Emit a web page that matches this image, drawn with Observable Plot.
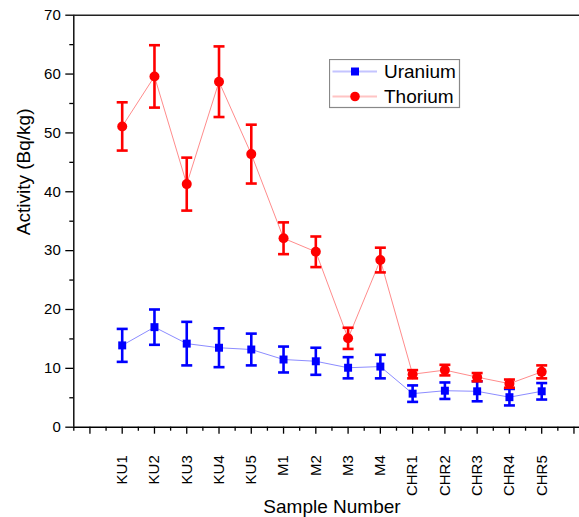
<!DOCTYPE html>
<html>
<head>
<meta charset="utf-8">
<script src="https://cdn.jsdelivr.net/npm/d3@7"></script>
<script src="https://cdn.jsdelivr.net/npm/@observablehq/plot@0.6"></script>
<style>
  html, body { margin: 0; padding: 0; background: #fff; }
  #chart { position: relative; width: 579px; height: 517px; overflow: hidden; font-family: "Liberation Sans", Arial, sans-serif; }
  #legend { position: absolute; left: 329px; top: 59px; }
</style>
</head>
<body>
<div id="chart"></div>
<script>
// Sample sites along the x axis
const samples = ["KU1", "KU2", "KU3", "KU4", "KU5", "M1", "M2", "M3", "M4", "CHR1", "CHR2", "CHR3", "CHR4", "CHR5"];

// Activity concentrations (Bq/kg) with their uncertainties
const uranium    = [13.9, 17.0, 14.2, 13.5, 13.2, 11.5, 11.2, 10.1, 10.3, 5.7, 6.2, 6.1, 5.1, 6.1];
const uraniumErr = [2.8, 3.0, 3.7, 3.3, 2.7, 2.2, 2.3, 1.8, 2.0, 1.4, 1.4, 1.7, 1.4, 1.4];
const thorium    = [51.1, 59.6, 41.3, 58.7, 46.4, 32.1, 29.8, 15.1, 28.4, 9.0, 9.7, 8.5, 7.4, 9.4];
const thoriumErr = [4.1, 5.3, 4.5, 6.0, 5.0, 2.7, 2.6, 1.8, 2.1, 0.7, 0.9, 0.7, 0.7, 1.1];

const seriesNames   = ["Uranium", "Thorium"];
const seriesColors  = ["#0000ff", "#ff0000"];
const lineColors    = ["#8c8cff", "#ff8c8c"];
const seriesSymbols = ["square", "circle"];

const yMajorTicks = [0, 10, 20, 30, 40, 50, 60, 70];
const yMinorTicks = [5, 15, 25, 35, 45, 55, 65];
const xMajorTicks = d3.range(-1, 15);
const xMinorTicks = d3.range(-1.5, 15, 1);

const toRows = (values, errors, name) =>
  samples.map((s, i) => ({ i, sample: s, value: values[i], err: errors[i], series: name }));

const uRows = toRows(uranium, uraniumErr, "Uranium");
const tRows = toRows(thorium, thoriumErr, "Thorium");

// Horizontal cap drawn at each error-bar end
const capSymbol = { draw(ctx) { ctx.moveTo(-5.5, 0); ctx.lineTo(5.5, 0); } };

function seriesMarks(rows, k) {
  const c = seriesColors[k];
  return [
    Plot.line(rows, { x: "i", y: "value", stroke: lineColors[k], strokeWidth: 1 }),
    Plot.ruleX(rows, { x: "i", y1: d => d.value - d.err, y2: d => d.value + d.err, stroke: c, strokeWidth: 2.6 }),
    Plot.dot(rows, { x: "i", y: d => d.value + d.err, symbol: capSymbol, stroke: c, strokeWidth: 2.6, fill: "none" }),
    Plot.dot(rows, { x: "i", y: d => d.value - d.err, symbol: capSymbol, stroke: c, strokeWidth: 2.6, fill: "none" }),
    Plot.dot(rows, { x: "i", y: "value", symbol: seriesSymbols[k], r: k === 0 ? 4.5 : 5, fill: c, stroke: "none" })
  ];
}

const chart = Plot.plot({
  width: 579,
  height: 517,
  marginLeft: 73.3,
  marginRight: -10.6,
  marginTop: 14.7,
  marginBottom: 90.3,
  style: { fontFamily: "Liberation Sans, Arial, sans-serif", color: "#000", background: "#fff", overflow: "hidden" },
  x: { type: "linear", domain: [-1.5, 14.5] },
  y: { domain: [0, 70] },
  marks: [
    // frame: left axis, bottom axis, top border
    Plot.ruleX([-1.5], { stroke: "#000", strokeWidth: 1.4 }),
    Plot.ruleY([0], { stroke: "#000", strokeWidth: 1.4 }),
    Plot.ruleY([70], { stroke: "#222", strokeWidth: 1.4 }),
    // y axis ticks and labels
    Plot.axisY({ ticks: yMajorTicks, tickSize: 8, tickPadding: 5, fontSize: 15, strokeWidth: 1.3, label: null }),
    Plot.axisY({ ticks: yMinorTicks, tickSize: 4, tickFormat: () => "", strokeWidth: 1.3, label: null }),
    // x axis ticks
    Plot.axisX({ ticks: xMajorTicks, tickSize: 7, tickFormat: () => "", strokeWidth: 1.3, label: null }),
    Plot.axisX({ ticks: xMinorTicks, tickSize: 4, tickFormat: () => "", strokeWidth: 1.3, label: null }),
    // rotated sample names
    Plot.axisX({
      ticks: d3.range(samples.length), tickSize: 0, tickPadding: 28, tickRotate: -90,
      tickFormat: i => samples[i], fontSize: 15,
      label: "Sample Number", labelAnchor: "center", labelOffset: 86, labelArrow: "none"
    }),
    Plot.text(["Activity (Bq/kg)"], { frameAnchor: "left", rotate: -90, dx: -50, dy: 14, fontSize: 19, fill: "#000" }),
    ...seriesMarks(uRows, 0),
    ...seriesMarks(tRows, 1)
  ]
});

// tick labels at 15px, axis title at the legend's size
const root = d3.select(chart);
root.selectAll("g[aria-label='y-axis tick label'], g[aria-label='x-axis tick label']")
  .attr("font-size", 15).selectAll("text").attr("font-size", 15).attr("fill", "#000");
root.selectAll("g[aria-label='x-axis label']").attr("font-size", 19)
  .selectAll("text").attr("font-size", 19).attr("fill", "#000");

const host = document.getElementById("chart");
host.appendChild(chart);

// Legend box
const lg = d3.select(host).append("svg").attr("id", "legend").attr("width", 132).attr("height", 50);
lg.append("rect").attr("x", 0.5).attr("y", 0.5).attr("width", 130).attr("height", 48)
  .attr("fill", "#fff").attr("stroke", "#888").attr("stroke-width", 1.2);
seriesNames.forEach((name, k) => {
  const cy = 12.5 + 25 * k;
  const row = lg.append("g");
  row.append("line").attr("x1", 3.5).attr("x2", 48).attr("y1", cy).attr("y2", cy)
    .attr("stroke", k === 0 ? "#c4c4ff" : "#ffc4c4").attr("stroke-width", 2);
  row.append("path").attr("transform", `translate(26,${cy})`)
    .attr("d", d3.symbol(k === 0 ? d3.symbolSquare : d3.symbolCircle, k === 0 ? 64 : 72)())
    .attr("fill", seriesColors[k]);
  row.append("text").attr("x", 55).attr("y", cy).attr("dy", "0.36em")
    .attr("font-family", "Liberation Sans, Arial, sans-serif").attr("font-size", 19)
    .attr("fill", "#000").text(name);
});
</script>
</body>
</html>
